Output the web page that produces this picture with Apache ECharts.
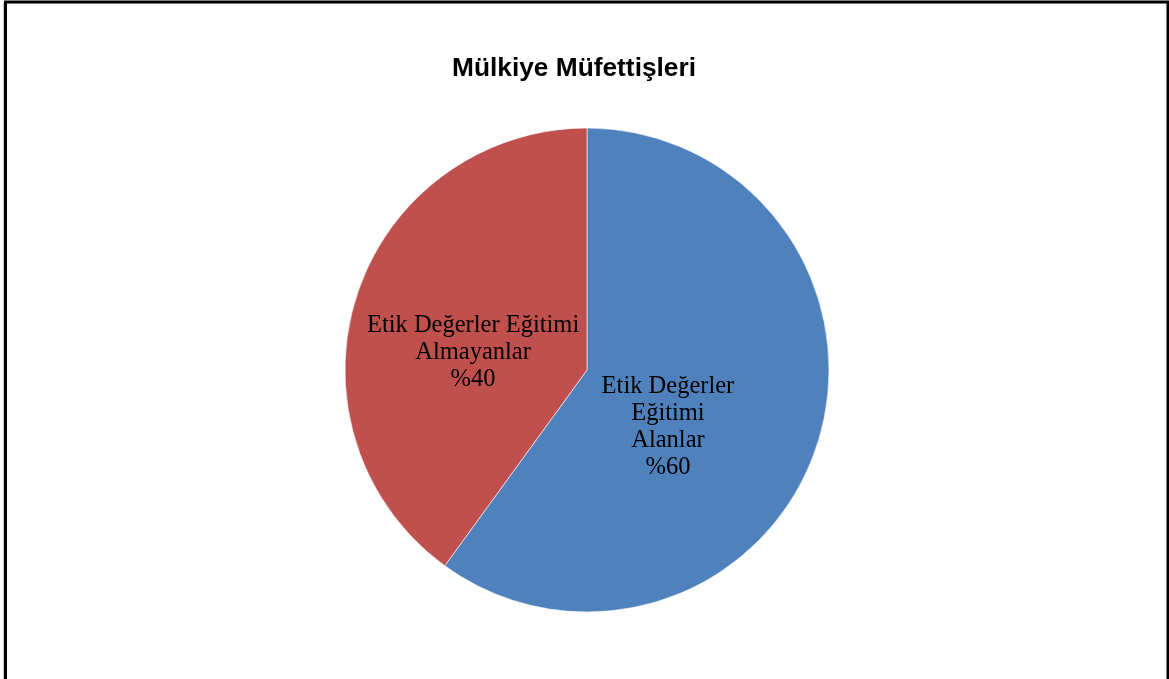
<!DOCTYPE html>
<html>
<head>
<meta charset="utf-8">
<script src="https://cdn.jsdelivr.net/npm/echarts@6/dist/echarts.min.js"></script>
<style>
  html, body { margin: 0; padding: 0; background: #fff; }
  #chart { width: 1169px; height: 679px; }
</style>
</head>
<body>
<div id="chart"></div>
<script>
// Share of inspectors who received ethics training
const chartTitle = 'Mülkiye Müfettişleri';
const categories = ['Etik Değerler\nEğitimi\nAlanlar', 'Etik Değerler Eğitimi\nAlmayanlar'];
const shares = [60, 40];
const sliceColors = ['#4F81BD', '#C0504D'];
// nudges applied to each inside label (px)
const labelShift = [[-37, 19], [4, 21]];

const chart = echarts.init(document.getElementById('chart'), null, { renderer: 'canvas' });

chart.setOption({
  animation: false,
  backgroundColor: '#fff',
  title: {
    text: chartTitle,
    left: 447,
    top: 51,
    textStyle: {
      fontFamily: 'Liberation Sans',
      fontWeight: 'bold',
      fontSize: 26.3,
      color: '#000'
    }
  },
  graphic: [{
    type: 'rect',
    shape: { x: 5.5, y: 2, width: 1162.5, height: 720 },
    style: { fill: 'none', stroke: '#000', lineWidth: 3 },
    silent: true
  }, {
    type: 'line',
    shape: { x1: 3.5, y1: 3, x2: 3.5, y2: 679 },
    style: { stroke: '#c8c8c8', lineWidth: 1 },
    silent: true
  }],
  series: [{
    type: 'pie',
    center: [587, 370],
    radius: 242,
    startAngle: 90,
    clockwise: true,
    data: categories.map((name, i) => ({
      name,
      value: shares[i],
      itemStyle: { color: sliceColors[i] }
    })),
    itemStyle: { borderColor: '#fff', borderWidth: 0.6 },
    label: {
      show: true,
      position: 'inside',
      formatter: p => p.name + '\n%' + p.value,
      fontFamily: 'Liberation Serif',
      fontSize: 24.5,
      lineHeight: 27,
      color: '#000',
      align: 'center'
    },
    labelLine: { show: false },
    labelLayout: p => ({ dx: labelShift[p.dataIndex][0], dy: labelShift[p.dataIndex][1] }),
    emphasis: { disabled: true }
  }]
});
</script>
</body>
</html>
